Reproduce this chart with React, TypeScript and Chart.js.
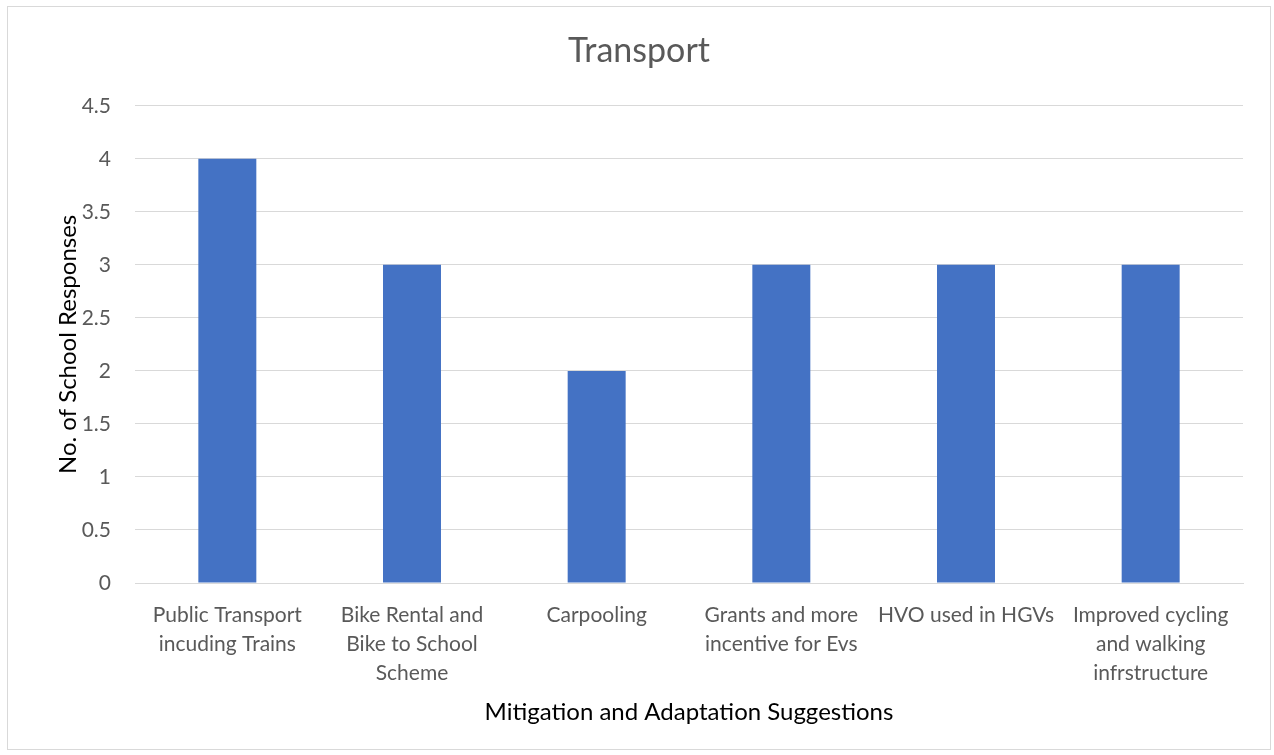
import React, { useEffect, useRef } from "react";
import { Chart, registerables } from "chart.js";

Chart.register(...registerables);

const categories: (string | string[])[] = [
  ["Public Transport", "incuding Trains"],
  ["Bike Rental and", "Bike to School", "Scheme"],
  "Carpooling",
  ["Grants and more", "incentive for Evs"],
  "HVO used in HGVs",
  ["Improved cycling", "and walking", "infrstructure"],
];
const responses: number[] = [4, 3, 2, 3, 3, 3];
const yMin = 0;
const yMax = 4.5;
const yStep = 0.5;

const chartTitle = "Transport";
const xTitle = "Mitigation and Adaptation Suggestions";
const yTitle = "No. of School Responses";

const FONT = "Lato, 'Open Sans', sans-serif";
const GRAY = "#595959";

export default function App() {
  const ref = useRef<HTMLCanvasElement | null>(null);

  useEffect(() => {
    document.body.style.margin = "0";
    if (!ref.current) return;
    const chart = new Chart(ref.current, {
      type: "bar",
      data: {
        labels: categories,
        datasets: [
          {
            data: responses,
            backgroundColor: "#4472C4",
            categoryPercentage: 1,
            barPercentage: 0.314,
          },
        ],
      },
      options: {
        animation: false,
        responsive: false,
        maintainAspectRatio: false,
        layout: { padding: { left: 27, right: 27, top: 0, bottom: 0 } },
        plugins: {
          legend: { display: false },
          tooltip: { enabled: false },
          title: {
            display: true,
            text: chartTitle,
            color: GRAY,
            font: { family: FONT, size: 34, weight: "normal" },
            padding: { top: 24, bottom: 34 },
          },
        },
        scales: {
          x: {
            grid: { display: false },
            border: { display: true, color: "#d9d9d9", width: 1 },
            ticks: {
              color: GRAY,
              font: { family: FONT, size: 21, lineHeight: 1.38 },
              maxRotation: 0,
              minRotation: 0,
              autoSkip: false,
              padding: 10,
            },
            title: {
              display: true,
              text: xTitle,
              color: "#000000",
              font: { family: FONT, size: 24 },
              padding: { top: 0, bottom: 22 },
            },
            afterFit: (s: any) => {
              s.height = 166;
            },
          },
          y: {
            min: yMin,
            max: yMax,
            border: { display: false },
            grid: { color: "#d9d9d9", drawTicks: false },
            ticks: {
              stepSize: yStep,
              color: GRAY,
              font: { family: FONT, size: 21 },
              padding: 24,
              callback: (v: any) => String(v),
            },
            title: {
              display: true,
              text: yTitle,
              color: "#000000",
              font: { family: FONT, size: 24 },
              padding: { top: 19, bottom: 0 },
            },
            afterFit: (s: any) => {
              s.width = 100;
            },
          },
        },
      },
    });
    return () => chart.destroy();
  }, []);

  return (
    <div
      style={{
        position: "absolute",
        left: 0,
        top: 0,
        width: 1274,
        height: 755,
        background: "#ffffff",
      }}
    >
      <div
        style={{
          position: "absolute",
          left: 7,
          top: 6,
          width: 1262,
          height: 742,
          border: "1px solid #d9d9d9",
        }}
      >
        <canvas ref={ref} width={1262} height={742} style={{ display: "block" }} />
      </div>
    </div>
  );
}
